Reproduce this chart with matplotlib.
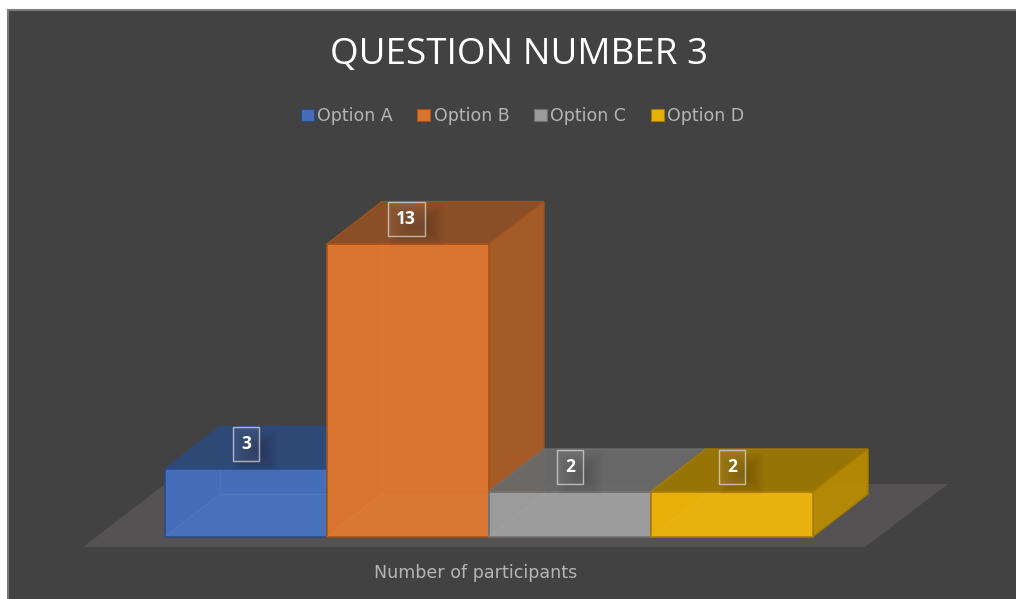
import matplotlib.pyplot as plt
from matplotlib.patches import Polygon, Patch, Rectangle

plt.rcParams['font.family'] = ['Open Sans', 'DejaVu Sans']

categories = ["Option A", "Option B", "Option C", "Option D"]
values = [3, 13, 2, 2]
front_colors = ["#446fb8", "#d97531", "#9b9b9b", "#e9b00a"]
top_colors = ["#2e4a7b", "#8f5026", "#6a6a6a", "#9c7703"]
side_colors = ["#34568f", "#a85c28", "#7a7a7a", "#b68a04"]
edge_colors = ["#2a4a85", "#a3521b", "#6f6f6f", "#a67c00"]

title = "QUESTION NUMBER 3"
xlabel = "Number of participants"

# one bar is 162 px wide, one participant is 22.5 px tall
PX_X = 162
PX_Y = 22.5
dx = 55 / PX_X
dy = 42.5 / PX_Y

fig = plt.figure(figsize=(10.16, 5.99), dpi=100, facecolor="white")
ax = fig.add_axes([0, 0, 1, 1])
ax.set_xlim(-165 / PX_X, (1016 - 165) / PX_X)
ax.set_ylim(-(599 - 536.5) / PX_Y, 536.5 / PX_Y)
ax.axis("off")

# panel background with thin border
ax.add_patch(Rectangle((-157 / PX_X, -70 / PX_Y), 1100 / PX_X, 596.5 / PX_Y,
                       fc="#424242", ec="#7a7a7a", lw=1.5, zorder=0))

# floor
n = len(values)
fl = 10.5 / PX_Y
ax.add_patch(Polygon([(-82 / PX_X, -fl), (n + 52 / PX_X, -fl), (n + 135 / PX_X, dy + 10 / PX_Y), (0, dy + 10 / PX_Y)],
                     fc="#545252", ec="none", zorder=1))

z = 2
for i, v in enumerate(values):
    # top
    ax.add_patch(Polygon([(i, v), (i + 1, v), (i + 1 + dx, v + dy), (i + dx, v + dy)],
                         fc=top_colors[i], ec=edge_colors[i], lw=1, alpha=0.95, zorder=z + 1))
    # side only for the bars that are not hidden by a neighbour
    if i in (1, 3):
        ax.add_patch(Polygon([(i + 1, 0), (i + 1 + dx, dy), (i + 1 + dx, v + dy), (i + 1, v)],
                             fc=side_colors[i], ec=edge_colors[i], lw=1, alpha=0.97, zorder=z + 1))
    z += 2

for i, v in enumerate(values):
    ax.add_patch(Rectangle((i, 0), 1, v, fc=front_colors[i], ec=edge_colors[i], lw=1.2, zorder=z))
    z += 1

# faint back edges seen through the front faces
for i, v in enumerate(values):
    back = dict(color="white" if i != 1 else "#f08a3c", lw=1, alpha=0.04 if i != 1 else 0.2, zorder=z)
    ax.plot([i + dx, i + dx], [dy, min(v, v + dy)], **back)
    ax.plot([i + dx, i + 1], [dy, dy], **back)
    ax.plot([i, i + dx], [0, dy], **back)
    ax.add_patch(Polygon([(i, 0), (i + 1, 0), (i + 1, dy), (i + dx, dy)], fc="white", ec="none", alpha=0.02, zorder=z))

# data labels with a soft shadow
for i, v in enumerate(values):
    label = str(v)
    w = (37 if v > 9 else 26) / PX_X
    h = 34 / PX_Y
    cx = i + 0.5 - (2 / PX_X if v > 9 else 0)
    cy = v + 25 / PX_Y
    for k in range(10):
        g = k * 2 / PX_X
        gy = k * 2 / PX_Y
        ax.add_patch(Rectangle((cx - w / 2 + 1 / PX_X + g, cy - h / 2 - 11 / PX_Y + gy),
                               w + 18 / PX_X - 2 * g, h + 8 / PX_Y - 2 * gy,
                               fc="black", ec="none", alpha=0.02, zorder=30))
    ax.add_patch(Rectangle((cx - w / 2, cy - h / 2), w, h, fc="white", alpha=0.06, ec="none", zorder=31))
    ax.add_patch(Rectangle((cx - w / 2, cy - h / 2), w, h, fc="none", ec="#d9d9d9", lw=1, alpha=0.75, zorder=32))
    ax.text(cx, cy + 2 / PX_Y, label, color="white", fontsize=12.5, fontweight="bold",
            ha="center", va="center_baseline", zorder=33)

# title, legend, axis label
ax.text(519 / 1016, 1 - 55 / 599, title, transform=ax.transAxes, color="white", fontsize=26.5,
        ha="center", va="center")
ax.text(476 / 1016, 1 - 573 / 599, xlabel, transform=ax.transAxes, color="#b5b5b5", fontsize=12.6,
        family="DejaVu Sans", ha="center", va="center")

handles = [Patch(fc=c, ec=e, lw=0.8) for c, e in zip(front_colors, edge_colors)]
ax.legend(handles, categories, ncol=4, frameon=False, loc="center",
          bbox_to_anchor=(522.5 / 1016, 1 - 116 / 599), prop=dict(family="DejaVu Sans", size=12.5),
          labelcolor="#b5b5b5", handlelength=0.75, handleheight=0.75, handletextpad=0.2, columnspacing=1.4)

fig.savefig("out.png", dpi=100, facecolor="white")
